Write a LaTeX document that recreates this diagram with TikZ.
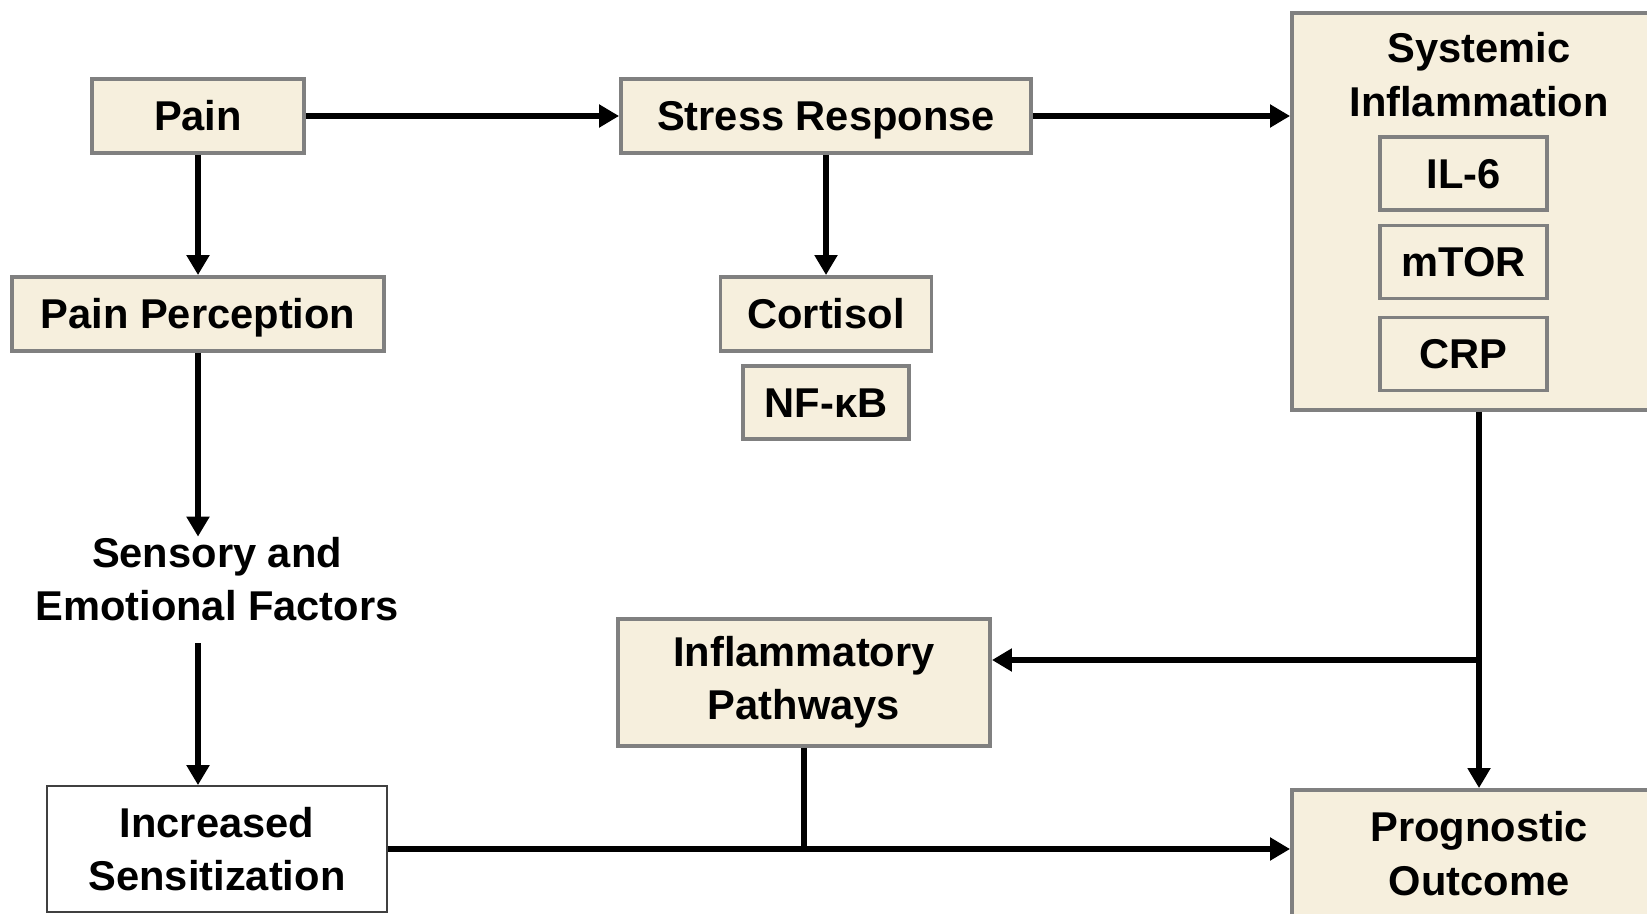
\documentclass[tikz,border=0pt]{standalone}
\usepackage{fontspec}
\setmainfont{Liberation Sans}
\usetikzlibrary{arrows.meta}
\definecolor{creme}{RGB}{246,239,221}
\definecolor{cinza}{RGB}{128,128,128}
\tikzset{
  caixa/.style={draw=cinza, line width=2.2pt, fill=creme, align=center, inner sep=0pt},
  curta/.style={text height=17pt, text depth=0pt},
  seta/.style={line width=3.4pt, -{Triangle[length=0.4cm,width=0.44cm]}},
  linha/.style={line width=3.4pt},
  every node/.style={font=\fontsize{23.7}{30.4}\selectfont\bfseries}
}
\begin{document}
\begin{tikzpicture}
    \clip (0,0) rectangle (32.94,18.26);
    % Caixas de cima
    \node[caixa, curta, minimum width=4.24cm, minimum height=1.48cm] (pain) at (3.96,15.94) {Pain};
    \node[caixa, curta, minimum width=8.2cm, minimum height=1.48cm] (stress) at (16.52,15.94) {Stress Response};
    \node[caixa, minimum width=7.48cm, minimum height=7.94cm] (sys) at (29.58,14.03) {};
    \node[align=center] (systit) at (29.58,16.77) {Systemic\\Inflammation};
    \node[caixa, curta, minimum width=3.34cm, minimum height=1.46cm] (il) at (29.27,14.79) {IL-6};
    \node[caixa, curta, minimum width=3.34cm, minimum height=1.46cm] (mtor) at (29.27,13.02) {mTOR};
    \node[caixa, curta, minimum width=3.34cm, minimum height=1.46cm] (crp) at (29.27,11.18) {CRP};
    % Caixas do meio
    \node[caixa, curta, minimum width=7.44cm, minimum height=1.48cm] (perc) at (3.96,11.98) {Pain Perception};
    \node[caixa, curta, minimum width=4.22cm, minimum height=1.48cm] (cort) at (16.52,11.98) {Cortisol};
    \node[caixa, curta, minimum width=3.32cm, minimum height=1.46cm] (nfkb) at (16.52,10.21) {NF-κB};
    \node[align=center, inner sep=0pt] (sens) at (4.34,6.68) {Sensory and\\Emotional Factors};
    \node[caixa, minimum width=7.44cm, minimum height=2.54cm] (infl) at (16.08,4.61) {Inflammatory\\Pathways};
    % Caixas de baixo
    \node[caixa, fill=white, draw=black!75, line width=1pt, minimum width=6.8cm, minimum height=2.52cm] (inc) at (4.34,1.28) {Increased\\Sensitization};
    \node[caixa, minimum width=7.48cm, minimum height=2.54cm] (prog) at (29.58,1.19) {Prognostic\\Outcome};
    % Inserindo as setas
    \draw[seta] (pain) -- (stress);
    \draw[seta] (stress) -- (stress.east -| sys.west);
    \draw[seta] (pain) -- (perc);
    \draw[seta] (stress) -- (cort);
    \draw[seta] (perc) -- (perc.south |- sens.north);
    \draw[seta] ([yshift=-0.44cm]sens.south -| perc.south) -- (perc.south |- inc.north);
    \draw[seta] (sys) -- (prog);
    \coordinate (ramo) at (29.58,5.06);
    \draw[seta] (ramo) -- (ramo -| infl.east);
    \draw[linha] (infl) -- (infl.south |- inc.east);
    \draw[seta] (inc) -- (inc.east -| prog.west);
\end{tikzpicture}
\end{document}
